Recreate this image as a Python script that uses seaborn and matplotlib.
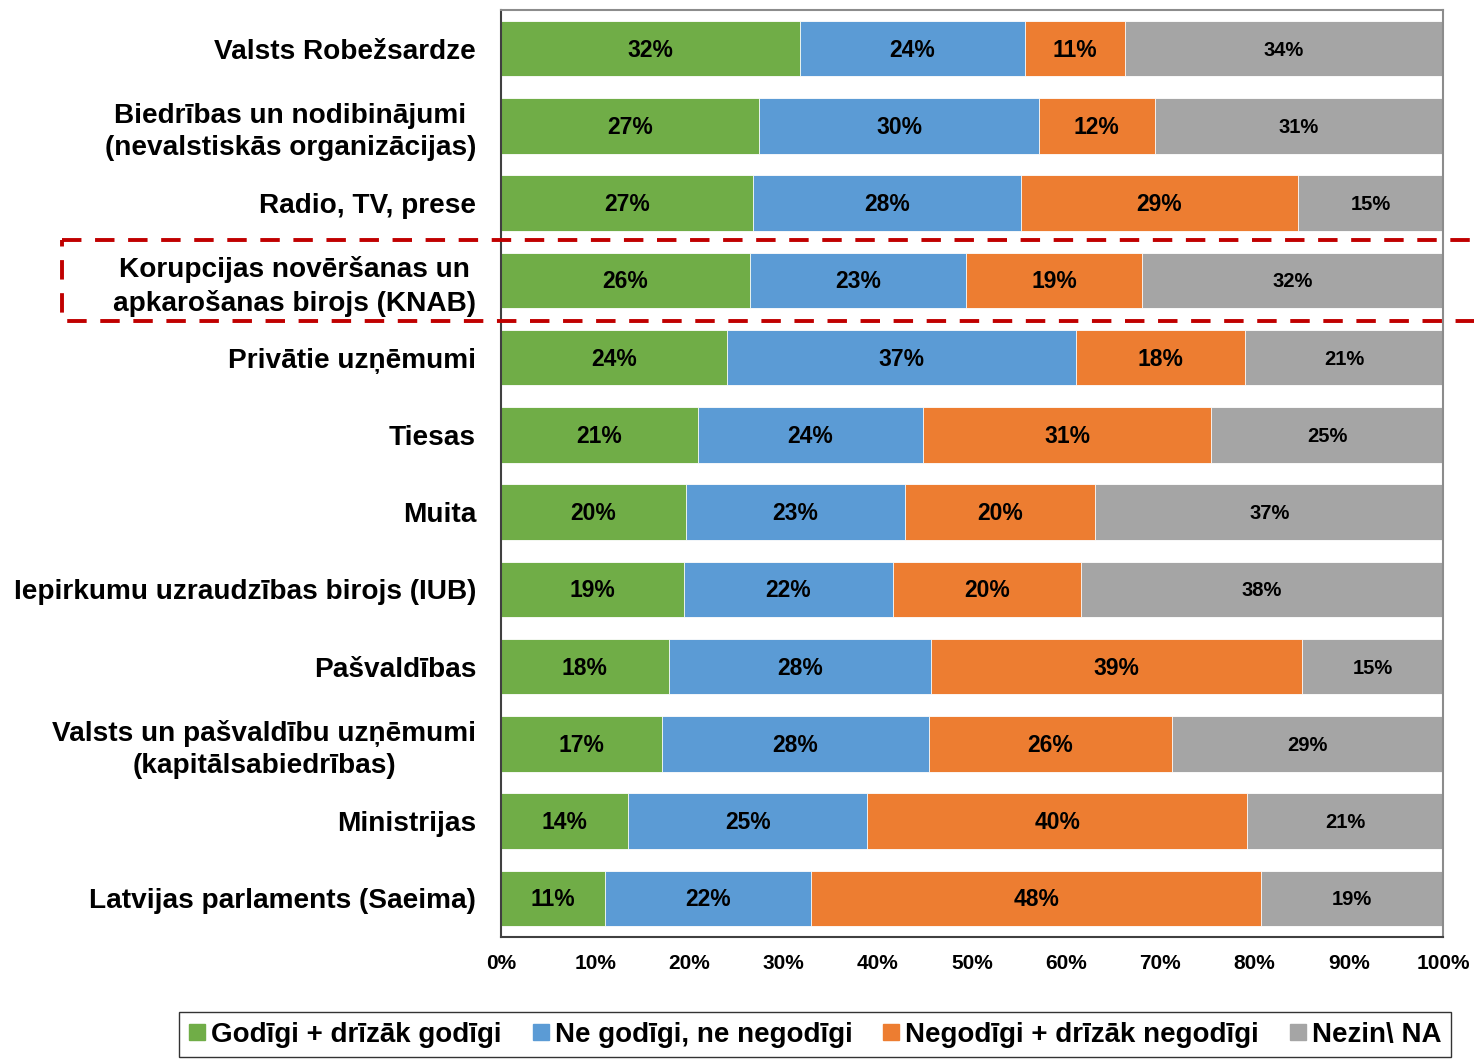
import numpy as np
import pandas as pd
import matplotlib
matplotlib.use("Agg")
import matplotlib.pyplot as plt
import matplotlib.transforms as mtransforms
from matplotlib.patches import Rectangle
from matplotlib.lines import Line2D
import seaborn as sns

# data (shares in %)
categories = [
    "Valsts Robežsardze",
    "Biedrības un nodibinājumi\n(nevalstiskās organizācijas)",
    "Radio, TV, prese",
    "Korupcijas novēršanas un\napkarošanas birojs (KNAB)",
    "Privātie uzņēmumi",
    "Tiesas",
    "Muita",
    "Iepirkumu uzraudzības birojs (IUB)",
    "Pašvaldības",
    "Valsts un pašvaldību uzņēmumi\n(kapitālsabiedrības)",
    "Ministrijas",
    "Latvijas parlaments (Saeima)",
]
fair = [31.7, 27.4, 26.8, 26.4, 24.0, 20.9, 19.6, 19.4, 17.8, 17.1, 13.5, 11.0]
neutral = [23.9, 29.7, 28.4, 23.0, 37.0, 23.9, 23.3, 22.2, 27.8, 28.3, 25.4, 21.9]
unfair = [10.6, 12.3, 29.4, 18.6, 18.0, 30.6, 20.2, 20.0, 39.4, 25.8, 40.3, 47.8]
dont_know = [33.8, 30.6, 15.4, 32.0, 21.0, 24.6, 36.9, 38.4, 15.0, 28.8, 20.8, 19.3]
series_names = ["Godīgi + drīzāk godīgi", "Ne godīgi, ne negodīgi",
                "Negodīgi + drīzāk negodīgi", "Nezin\\ NA"]
colors = ["#70AD47", "#5B9BD5", "#ED7D31", "#A5A5A5"]
highlight = "Korupcijas novēršanas un\napkarošanas birojs (KNAB)"
xticks = [0, 10, 20, 30, 40, 50, 60, 70, 80, 90, 100]

df = pd.DataFrame({"category": categories, series_names[0]: fair,
                   series_names[1]: neutral, series_names[2]: unfair,
                   series_names[3]: dont_know})
vals = df[series_names].to_numpy()
cum = vals.cumsum(axis=1)

sns.set_style("white")
plt.rcParams["font.family"] = ["Liberation Sans", "DejaVu Sans"]
plt.rcParams["font.weight"] = "bold"
plt.rcParams["text.color"] = "black"
plt.rcParams["xtick.color"] = "black"
plt.rcParams["ytick.color"] = "black"
plt.rcParams["axes.labelcolor"] = "black"

fig = plt.figure(figsize=(14.74, 10.59), dpi=100)
ax = fig.add_axes([0.3399, 0.1152, 0.6391, 0.8754])

# stacked bars: draw cumulative widths from the last layer to the first
for k in range(3, -1, -1):
    sns.barplot(x=cum[:, k], y=df["category"], orient="h", color=colors[k],
                width=0.72, edgecolor="white", linewidth=0.6,
                saturation=1, ax=ax)

# value labels in the middle of each segment
for i in range(len(categories)):
    for k in range(4):
        center = cum[i, k] - vals[i, k] / 2
        fs = 16.5 if k < 3 else 14.5
        ax.text(center, i + 0.02, f"{vals[i, k]:.0f}%", ha="center", va="center",
                fontsize=fs, fontweight="bold", color="black")

ax.set_xlim(0, 100)
ax.set_ylim(len(categories) - 0.5, -0.5)
ax.set_xticks(xticks)
ax.set_xticklabels([f"{t}%" for t in xticks], fontsize=15, fontweight="bold")
ax.set_xlabel("")
ax.set_ylabel("")
ax.tick_params(axis="x", direction="out", length=5, width=1.2, color="#404040",
               labelcolor="black", pad=7)
ax.tick_params(axis="y", which="major", length=0, pad=18, labelsize=20.2,
               labelcolor="black")
ax.set_yticks(np.arange(len(categories) + 1) - 0.5, minor=True)
ax.tick_params(axis="y", which="minor", direction="out", length=8, width=1.2, color="#404040")
for lab in ax.get_yticklabels():
    lab.set_multialignment("center")
    lab.set_fontweight("bold")
    lab.set_linespacing(1.3)

for side in ["left", "bottom"]:
    ax.spines[side].set_color("#404040")
    ax.spines[side].set_linewidth(1.5)
for side in ["top", "right"]:
    ax.spines[side].set_color("#8C8C8C")
    ax.spines[side].set_linewidth(1.5)

# dashed highlight box around the KNAB row
row = categories.index(highlight)
trans = mtransforms.blended_transform_factory(fig.transFigure, ax.transData)
box = Rectangle((0.042, row - 0.52), 1.0, 1.05, transform=trans, fill=False,
                edgecolor="#C00000", linewidth=2.8, linestyle=(0, (5, 3.5)),
                clip_on=False, zorder=10)
fig.add_artist(box)

# legend at the bottom
handles = [Line2D([0], [0], marker="s", linestyle="", markersize=11,
                  markerfacecolor=c, markeredgecolor=c) for c in colors]
leg = fig.legend(handles, series_names, loc="upper center", ncol=4,
                 bbox_to_anchor=(0.553, 0.0575), frameon=True, fancybox=False,
                 fontsize=20, handlelength=0.6, handletextpad=0.2,
                 columnspacing=1.1, borderpad=0.35)
leg.get_frame().set_edgecolor("black")
leg.get_frame().set_linewidth(1.0)
for t in leg.get_texts():
    t.set_fontweight("bold")
    t.set_color("black")

fig.savefig("out.png", dpi=100)
